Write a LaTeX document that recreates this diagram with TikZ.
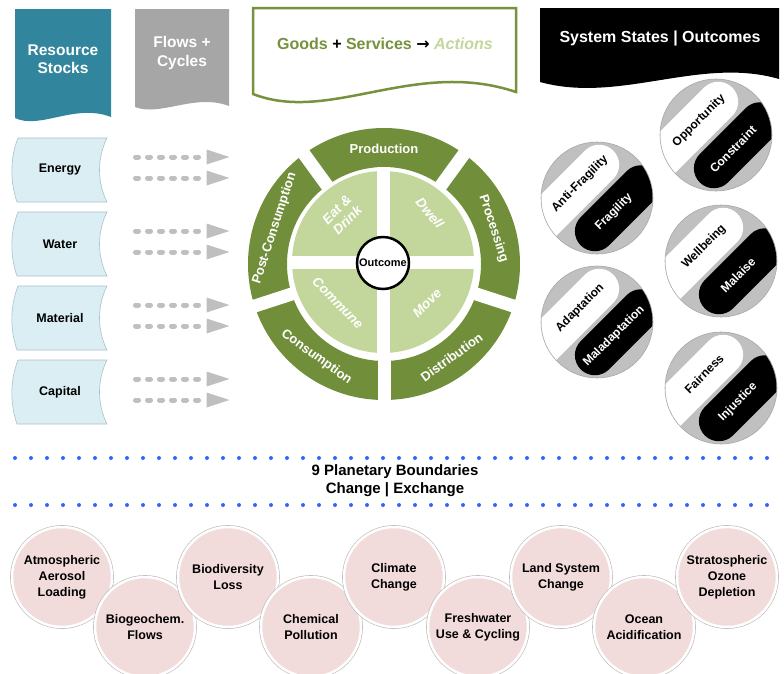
\documentclass[tikz,border=0pt]{standalone}
\usepackage{fontspec}
\setmainfont{Liberation Sans}
\newfontfamily\arrowfont{DejaVu Sans}
\usetikzlibrary{positioning}
\definecolor{stockteal}{HTML}{31859C}
\definecolor{flowgray}{HTML}{A6A6A6}
\definecolor{goodsgreen}{HTML}{76923C}
\definecolor{actgreen}{HTML}{C3D69B}
\definecolor{ringgreen}{HTML}{718F3B}
\definecolor{stockblue}{HTML}{DAEEF3}
\definecolor{stockedge}{HTML}{A9C2CA}
\definecolor{arrowgray}{HTML}{BFBFBF}
\definecolor{stategray}{HTML}{C0C0C0}
\definecolor{stateedge}{HTML}{A8A8A8}
\definecolor{boundpink}{HTML}{F2DCDB}
\definecolor{boundedge}{HTML}{B8B8B8}
\definecolor{dotblue}{HTML}{3366FF}
\begin{document}
\begin{tikzpicture}[x=1pt,y=1pt,
        banner/.style={text=white,align=center,font=\fontsize{15.5}{18.5}\selectfont\bfseries},
        stockshape/.style={fill=stockblue,draw=stockedge,line width=0.6pt},
        stock/.style={font=\fontsize{12.5}{15}\selectfont\bfseries},
        flowdash/.style={draw=arrowgray,line width=5pt,line cap=round,dash pattern=on 3pt off 9pt},
        flowhead/.style={fill=arrowgray},
        ringlabel/.style={text=white,font=\fontsize{13}{15}\selectfont\bfseries},
        actlabel/.style={text=white,align=center,font=\fontsize{13.5}{15}\selectfont\bfseries\itshape},
        outcome/.style={circle,draw=black,line width=2.5pt,fill=white,minimum size=52pt,inner sep=0pt,font=\fontsize{11}{13}\selectfont\bfseries},
        statedisc/.style={circle,fill=stategray,draw=stateedge,line width=0.6pt,minimum size=112pt,inner sep=0pt},
        statelabel/.style={rotate=45,inner sep=0pt,font=\fontsize{12}{14}\selectfont\bfseries},
        dotrule/.style={draw=dotblue,line width=4pt,line cap=round,dash pattern=on 0pt off 16pt},
        bound/.style={circle,fill=boundpink,draw=white,line width=2.5pt,preaction={draw=boundedge,line width=3.7pt},minimum size=100pt,inner sep=0pt,align=center,font=\fontsize{12.5}{16}\selectfont\bfseries}]
        \useasboundingbox (0,-673) rectangle (784,0);

        % headers
        \fill[stockteal] (15,-9) -- (111,-9) -- (111,-117) .. controls (75,-103) and (40,-130) .. (15,-118) -- cycle;
        \node[banner] (stocks) at (63,-59) {Resource\\Stocks};
        \fill[flowgray] (135,-9) -- (229,-9) -- (229,-106) .. controls (195,-93) and (160,-117) .. (135,-107) -- cycle;
        \node[banner] (flows) at (182,-53) {Flows +\\Cycles};
        \draw[goodsgreen,line width=2.5pt,fill=white] (253,-8) -- (516,-8) -- (516,-92) .. controls (415,-58) and (330,-124) .. (253,-94) -- cycle;
        \node[font=\fontsize{16}{19}\selectfont\bfseries] (goods) at (385,-44) {\textcolor{goodsgreen}{Goods} + \textcolor{goodsgreen}{Services} {\arrowfont\bfseries →} \textcolor{actgreen}{\itshape Actions}};
        \fill[black] (540,-8) -- (779,-8) -- (779,-79) .. controls (700,-56) and (620,-104) .. (540,-82) -- cycle;
        \node[banner,font=\fontsize{16}{19}\selectfont\bfseries] (states) at (660,-38) {System States | Outcomes};

        % stocks and flows
        \foreach \name/\ry [count=\i] in {Energy/138,Water/212,Material/286,Capital/360} {
            \filldraw[stockshape] (18,-\ry) -- (107,-\ry) .. controls (97,-\ry-20) and (97,-\ry-44) .. (107,-\ry-64) -- (17,-\ry-64) .. controls (10,-\ry-44) and (10,-\ry-20) .. (18,-\ry) -- cycle;
            \node[stock] (stock\i) at (60,-\ry-32) {\name};
            \foreach \dy/\k in {19/a,40/b} {
                \coordinate (fs\i\k) at (135.5,-\ry-\dy);
                \coordinate (fh\i\k) at (206.5,-\ry-\dy);
                \draw[flowdash] (fs\i\k) -- (fh\i\k);
                \fill[flowhead] (fh\i\k) -- ++(0,7.5) -- ++(23,-7.5) -- ++(-23,-7.5) -- cycle;
            }
        }

        % wheel
        \fill[ringgreen,even odd rule] (384,-264) circle (136) (384,-264) circle (97);
        \foreach \a in {54,126,198,270,342}
            \draw[white,line width=13pt] (384,-264) ++(\a:90) -- ++(\a:55);
        \foreach \a/\r/\txt [count=\i] in {90/0/Production,18/-72/Processing,-54/36/Distribution,-126/-36/Consumption,162/72/Post-Consumption}
            \path (384,-264) ++(\a:115) node[ringlabel,rotate=\r] (ring\i) {\txt};
        \fill[actgreen] (383,-262) circle (91);
        \draw[white,line width=13pt] (288,-262) -- (478,-262) (383,-167) -- (383,-357);
        \node[actlabel,rotate=45] (eat) at (342,-215) {Eat \&\\Drink};
        \node[actlabel,rotate=-50] (dwell) at (430,-213) {Dwell};
        \node[actlabel,rotate=-45] (commune) at (338,-303) {Commune};
        \node[actlabel,rotate=45] (move) at (427,-303) {Move};
        \node[outcome] (outcome) at (383,-263) {Outcome};

        % system states
        \foreach \cx/\cy/\good/\bad [count=\i] in {716/135/Opportunity/Constraint,597/198/Anti-Fragility/Fragility,721/261/Wellbeing/Malaise,597/322/Adaptation/Maladaptation,721/388/Fairness/Injustice} {
            \node[statedisc] (state\i) at (\cx,-\cy) {};
            \begin{scope}
                \clip (\cx,-\cy) circle (55.5);
                \begin{scope}[shift={(\cx,-\cy)},rotate=45]
                    \fill[white,rounded corners=20pt] (-75,2) rectangle (45,42);
                    \fill[black,rounded corners=20pt] (-45,-42) rectangle (60,-2);
                    \node[statelabel,text=black] (good\i) at (-2,22) {\good};
                    \node[statelabel,text=white] (bad\i) at (2,-22) {\bad};
                \end{scope}
            \end{scope}
        }

        % planetary boundaries
        \coordinate (dotl1) at (15,-458);
        \coordinate (dotr1) at (783,-458);
        \coordinate (dotl2) at (15,-505);
        \coordinate (dotr2) at (783,-505);
        \draw[dotrule] (dotl1) -- (dotr1);
        \draw[dotrule] (dotl2) -- (dotr2);
        \node[align=center,font=\fontsize{15}{18}\selectfont\bfseries] (pb) at (395,-481) {9 Planetary Boundaries\\Change | Exchange};
        \foreach \bx/\by/\txt [count=\i] in {62/577/{Atmospheric\\Aerosol\\Loading},145/627/{Biogeochem.\\Flows},228/577/{Biodiversity\\Loss},311/627/{Chemical\\Pollution},394/577/{Climate\\Change},478/627/{Freshwater\\Use \& Cycling},561/577/{Land System\\Change},644/627/{Ocean\\Acidification},727/577/{Stratospheric\\Ozone\\Depletion}}
            \node[bound] (bound\i) at (\bx,-\by) {\txt};
    \end{tikzpicture}
\end{document}
